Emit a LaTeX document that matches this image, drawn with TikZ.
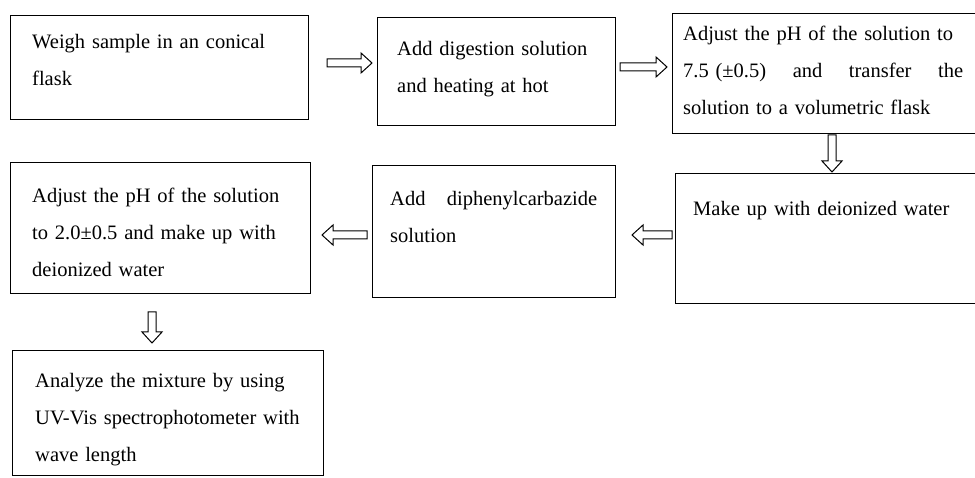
\documentclass[tikz,border=0pt]{standalone}
\usepackage{fontspec}
\setmainfont{Liberation Serif}
\usetikzlibrary{calc}
\tikzset{
  stepbox/.style={draw=black, line width=1.2pt, rectangle, inner sep=0pt, anchor=north west},
  steptext/.style={anchor=north west, inner sep=0pt, align=left, text=black,
    font=\fontsize{20.5}{37}\selectfont},
  blockarrow/.style={draw=black, line width=1pt, fill=white, line join=miter,
    to path={let \p1=(\tikztostart), \p2=(\tikztotarget), \n1={atan2(\y2-\y1,\x2-\x1)} in
      ($(\p1)+(\n1+90:4pt)$) -- ($(\p2)+(\n1+180:11pt)+(\n1+90:4pt)$)
      -- ($(\p2)+(\n1+180:11pt)+(\n1+90:10pt)$) -- (\p2)
      -- ($(\p2)+(\n1+180:11pt)+(\n1-90:10pt)$) -- ($(\p2)+(\n1+180:11pt)+(\n1-90:4pt)$)
      -- ($(\p1)+(\n1-90:4pt)$) -- cycle}}
}
\begin{document}
\begin{tikzpicture}[x=1pt,y=1pt]
\useasboundingbox (0,0) rectangle (975,477);
\clip (0,0) rectangle (975,477);
\fill[white] (0,0) rectangle (975,477);
% boxes
\node[stepbox, minimum width=298pt, minimum height=104pt] (b1) at (10,462) {};
\node[stepbox, minimum width=238pt, minimum height=108pt] (b2) at (377,460) {};
\node[stepbox, minimum width=320pt, minimum height=120pt] (b3) at (672,464) {};
\node[stepbox, minimum width=320pt, minimum height=130pt] (b6) at (675,304) {};
\node[stepbox, minimum width=243pt, minimum height=132pt] (b5) at (372,312) {};
\node[stepbox, minimum width=300pt, minimum height=131pt] (b4) at (10,315) {};
\node[stepbox, minimum width=311pt, minimum height=125pt] (b7) at (12,127) {};
% texts
\node[steptext, text width=270pt] (t1) at (32,443) {Weigh sample in an conical\\flask};
\node[steptext, text width=210pt] (t2) at (397,436) {Add digestion solution\\and heating at hot};
\node[steptext, text width=280pt] (t3) at (683,451) {Adjust the pH of the solution to\\7.5 (±0.5)\hfill and\hfill transfer\hfill the\\solution to a volumetric flask};
\node[steptext, text width=268pt] (t4) at (32,289) {Adjust the pH of the solution\\to 2.0±0.5 and make up with\\deionized water};
\node[steptext, text width=207pt] (t5) at (390,286) {Add\hfill diphenylcarbazide\\solution};
\node[steptext, text width=275pt] (t6) at (693,276) {Make up with deionized water};
\node[steptext, text width=280pt] (t7) at (35,104) {Analyze the mixture by using\\UV-Vis spectrophotometer with\\wave length};
% arrow end points
\coordinate (a1s) at (327,414); \coordinate (a1e) at (372,414);
\coordinate (a2s) at (620,410); \coordinate (a2e) at (667,410);
\coordinate (a3s) at (832,342); \coordinate (a3e) at (832,305);
\coordinate (a4s) at (672,242); \coordinate (a4e) at (632,242);
\coordinate (a5s) at (367,242); \coordinate (a5e) at (322,242);
\coordinate (a6s) at (152,165); \coordinate (a6e) at (152,134);
\draw[blockarrow] (a1s) to (a1e);
\draw[blockarrow] (a2s) to (a2e);
\draw[blockarrow] (a3s) to (a3e);
\draw[blockarrow] (a4s) to (a4e);
\draw[blockarrow] (a5s) to (a5e);
\draw[blockarrow] (a6s) to (a6e);
\end{tikzpicture}
\end{document}
